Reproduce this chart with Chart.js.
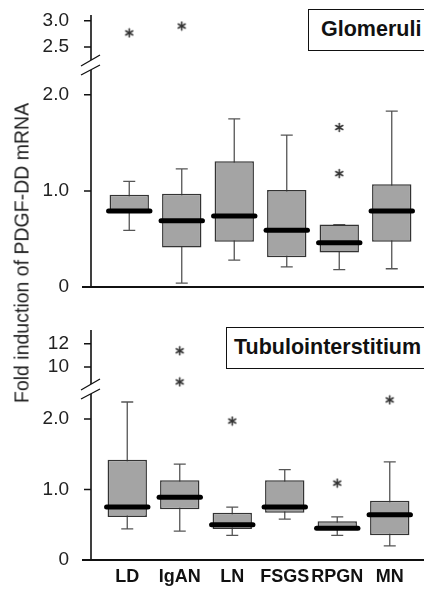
<!DOCTYPE html>
<html>
<head>
<meta charset="utf-8">
<script src="https://cdn.jsdelivr.net/npm/chart.js@4.4.1/dist/chart.umd.min.js"></script>
<style>
  html, body { margin: 0; padding: 0; background: #fff; }
  body { width: 424px; height: 589px; position: relative; overflow: hidden; font-family: "Liberation Sans", Arial, sans-serif; }
  canvas { position: absolute; left: 0; }
  #glomCanvas { top: 0; }
  #tubCanvas { top: 300px; }
  .panel-label {
    position: absolute; box-sizing: border-box; height: 42px; width: 140px;
    border: 1.5px solid #111; background: #fff; font-weight: bold; font-size: 21.5px;
    line-height: 39px; color: #111; white-space: nowrap;
  }
  #glomLabel { left: 308px; top: 9px; padding-left: 12px; }
  #tubLabel { left: 226px; top: 327px; width: 220px; padding-left: 7px; }
  #yTitle {
    position: absolute; left: 22px; top: 253px; white-space: nowrap;
    transform: translate(-50%, -50%) rotate(-90deg);
    font-size: 19.5px; color: #222;
  }
</style>
</head>
<body>
<canvas id="glomCanvas" width="424" height="300"></canvas>
<canvas id="tubCanvas" width="424" height="289"></canvas>
<div id="glomLabel" class="panel-label">Glomeruli</div>
<div id="tubLabel" class="panel-label">Tubulointerstitium</div>
<div id="yTitle">Fold induction of PDGF-DD mRNA</div>
<script>
const categories = ['LD', 'IgAN', 'LN', 'FSGS', 'RPGN', 'MN'];

// Glomeruli
const glomWhiskerLow  = [0.59, 0.04, 0.28, 0.21, 0.18, 0.19];
const glomQ1          = [0.77, 0.41, 0.47, 0.31, 0.36, 0.47];
const glomMedian      = [0.79, 0.69, 0.74, 0.59, 0.46, 0.79];
const glomQ3          = [0.96, 0.97, 1.31, 1.01, 0.65, 1.07];
const glomWhiskerHigh = [1.10, 1.23, 1.75, 1.58, 0.65, 1.83];
const glomOutlierLowCats  = ['RPGN', 'RPGN'];
const glomOutlierLowVals  = [1.66, 1.18];
const glomOutlierHighCats = ['LD', 'IgAN'];
const glomOutlierHighVals = [2.77, 2.90];
const glomLowTicks  = [0, 1, 2];
const glomLowTickLabels  = ['0', '1.0', '2.0'];
const glomHighTicks = [2.5, 3];
const glomHighTickLabels = ['2.5', '3.0'];

// Tubulointerstitium
const tubWhiskerLow  = [0.44, 0.41, 0.35, 0.58, 0.35, 0.20];
const tubQ1          = [0.61, 0.72, 0.44, 0.67, 0.44, 0.35];
const tubMedian      = [0.75, 0.89, 0.50, 0.75, 0.45, 0.64];
const tubQ3          = [1.42, 1.13, 0.67, 1.13, 0.55, 0.84];
const tubWhiskerHigh = [2.24, 1.36, 0.75, 1.28, 0.61, 1.39];
const tubOutlierLowCats  = ['LN', 'RPGN', 'MN'];
const tubOutlierLowVals  = [1.97, 1.09, 2.27];
const tubOutlierHighCats = ['IgAN', 'IgAN'];
const tubOutlierHighVals = [11.4, 8.7];
const tubLowTicks  = [0, 1, 2];
const tubLowTickLabels  = ['0', '1.0', '2.0'];
const tubHighTicks = [10, 12];
const tubHighTickLabels = ['10', '12'];

const BOX_FILL = '#a4a4a4';
const BOX_EDGE = '#333';
const INK = '#111';
const FONT = '"Liberation Sans", Arial, sans-serif';

// small six-armed asterisk used as point style
function makeAsterisk() {
  const c = document.createElement('canvas');
  c.width = 11; c.height = 11;
  const g = c.getContext('2d');
  g.strokeStyle = '#333';
  g.lineWidth = 1.6;
  g.lineCap = 'round';
  for (let k = 0; k < 3; k++) {
    const a = Math.PI / 2 + k * Math.PI / 3;
    g.beginPath();
    g.moveTo(5.5 + Math.cos(a) * 4, 5.5 - Math.sin(a) * 4);
    g.lineTo(5.5 - Math.cos(a) * 4, 5.5 + Math.sin(a) * 4);
    g.stroke();
  }
  return c;
}
const asterisk = makeAsterisk();

// whiskers, medians, broken y axis, x axis line
const boxPlotPlugin = {
  id: 'boxPlot',
  beforeDatasetsDraw(chart) {
    const p = chart.options.plugins.boxPlot;
    const ctx = chart.ctx;
    const x = chart.scales.x, y = chart.scales.y;
    ctx.save();
    ctx.strokeStyle = '#555';
    ctx.lineWidth = 1.3;
    categories.forEach((c, i) => {
      const cx = x.getPixelForValue(i);
      const lo = y.getPixelForValue(p.whiskerLow[i]);
      const hi = y.getPixelForValue(p.whiskerHigh[i]);
      ctx.beginPath();
      ctx.moveTo(cx, lo); ctx.lineTo(cx, hi);
      ctx.moveTo(cx - 6, lo); ctx.lineTo(cx + 6, lo);
      ctx.moveTo(cx - 6, hi); ctx.lineTo(cx + 6, hi);
      ctx.stroke();
    });
    ctx.restore();
  },
  afterDatasetsDraw(chart) {
    const p = chart.options.plugins.boxPlot;
    const ctx = chart.ctx;
    const y = chart.scales.y, yUp = chart.scales.yUp;
    const bars = chart.getDatasetMeta(0).data;
    ctx.save();
    ctx.strokeStyle = '#000';
    ctx.lineWidth = 5;
    ctx.lineCap = 'round';
    bars.forEach((bar, i) => {
      const my = y.getPixelForValue(p.median[i]);
      ctx.beginPath();
      ctx.moveTo(bar.x - bar.width / 2 - 1, my);
      ctx.lineTo(bar.x + bar.width / 2 + 1, my);
      ctx.stroke();
    });

    // broken y axis
    const ax = p.axisX;
    const b = y.top;
    ctx.lineCap = 'butt';
    ctx.strokeStyle = INK;
    ctx.lineWidth = 1.6;
    ctx.beginPath();
    ctx.moveTo(ax, yUp.top); ctx.lineTo(ax, b - 6);
    ctx.moveTo(ax, b + 4); ctx.lineTo(ax, y.bottom);
    ctx.stroke();
    ctx.lineWidth = 1.3;
    ctx.beginPath();
    ctx.moveTo(ax - 10, b); ctx.lineTo(ax + 9, b - 11);
    ctx.moveTo(ax - 10, b + 9); ctx.lineTo(ax + 9, b - 1);
    ctx.stroke();
    ctx.lineWidth = 1.5;
    ctx.beginPath();
    [[y, p.lowTicks], [yUp, p.highTicks]].forEach(([s, ticks]) => {
      ticks.forEach(v => {
        const ty = s.getPixelForValue(v);
        ctx.moveTo(ax - 7, ty); ctx.lineTo(ax, ty);
      });
    });
    ctx.stroke();

    // x axis line
    ctx.lineWidth = 2;
    ctx.beginPath();
    ctx.moveTo(ax - 9, y.bottom);
    ctx.lineTo(chart.width, y.bottom);
    ctx.stroke();
    ctx.restore();
  }
};

function toPoints(cats, vals) {
  return cats.map((c, i) => ({ x: c, y: vals[i] }));
}

// keep tick labels from pushing the plot area inwards
function noOverflow(s) {
  s.paddingTop = 0; s.paddingBottom = 0;
  s.paddingLeft = 0; s.paddingRight = 0;
}

function makePanel(canvasId, p) {
  const tickFont = { family: FONT, size: 19 };
  return new Chart(document.getElementById(canvasId), {
    type: 'bar',
    data: {
      labels: categories,
      datasets: [
        {
          label: 'IQR',
          data: p.q1.map((v, i) => [v, p.q3[i]]),
          yAxisID: 'y',
          backgroundColor: BOX_FILL,
          borderColor: BOX_EDGE,
          borderWidth: 1.5,
          borderSkipped: false,
          barPercentage: 0.75,
          categoryPercentage: 1,
        },
        {
          type: 'line',
          label: 'outliers',
          data: p.outLow,
          yAxisID: 'y',
          showLine: false,
          pointStyle: asterisk,
          pointRadius: 5,
        },
        {
          type: 'line',
          label: 'outliers (upper)',
          data: p.outHigh,
          yAxisID: 'yUp',
          showLine: false,
          pointStyle: asterisk,
          pointRadius: 5,
        }
      ]
    },
    options: {
      responsive: false,
      animation: false,
      layout: { padding: { top: p.top, right: p.right, left: 0, bottom: 0 } },
      plugins: {
        legend: { display: false },
        tooltip: { enabled: false },
        boxPlot: p,
      },
      scales: {
        x: {
          type: 'category',
          offset: true,
          grid: { display: false, drawTicks: false },
          border: { display: false },
          ticks: {
            display: p.showLabels,
            autoSkip: false,
            maxRotation: 0,
            minRotation: 0,
            padding: 6,
            color: INK,
            font: { family: FONT, size: 18, weight: 'bold' },
          },
          afterFit: s => { s.height = p.xHeight; noOverflow(s); },
        },
        y: {
          type: 'linear',
          position: 'left',
          stack: 'panel',
          stackWeight: p.lowWeight,
          min: 0,
          max: p.lowMax,
          bounds: 'data',
          grid: { display: false, drawTicks: false },
          border: { display: false },
          afterBuildTicks: s => { s.ticks = p.lowTicks.map(v => ({ value: v })); },
          ticks: {
            autoSkip: false,
            padding: p.left - 69,
            color: '#222',
            font: tickFont,
            callback: v => p.lowTickLabels[p.lowTicks.indexOf(v)],
          },
          afterFit: s => { s.width = p.left; noOverflow(s); },
        },
        yUp: {
          type: 'linear',
          position: 'left',
          stack: 'panel',
          stackWeight: p.highWeight,
          min: p.highMin,
          max: p.highMax,
          bounds: 'data',
          grid: { display: false, drawTicks: false },
          border: { display: false },
          afterBuildTicks: s => { s.ticks = p.highTicks.map(v => ({ value: v })); },
          ticks: {
            autoSkip: false,
            padding: p.left - 69,
            color: '#222',
            font: tickFont,
            callback: v => p.highTickLabels[p.highTicks.indexOf(v)],
          },
          afterFit: s => { s.width = p.left; noOverflow(s); },
        },
      },
    },
    plugins: [boxPlotPlugin],
  });
}

makePanel('glomCanvas', {
  whiskerLow: glomWhiskerLow, q1: glomQ1, median: glomMedian, q3: glomQ3, whiskerHigh: glomWhiskerHigh,
  outLow: toPoints(glomOutlierLowCats, glomOutlierLowVals),
  outHigh: toPoints(glomOutlierHighCats, glomOutlierHighVals),
  lowTicks: glomLowTicks, lowTickLabels: glomLowTickLabels,
  highTicks: glomHighTicks, highTickLabels: glomHighTickLabels,
  lowMax: 2.30, highMin: 2.14, highMax: 3.11,
  lowWeight: 221, highWeight: 51,
  top: 15, right: 0, left: 103, xHeight: 13, axisX: 91, showLabels: false,
});

makePanel('tubCanvas', {
  whiskerLow: tubWhiskerLow, q1: tubQ1, median: tubMedian, q3: tubQ3, whiskerHigh: tubWhiskerHigh,
  outLow: toPoints(tubOutlierLowCats, tubOutlierLowVals),
  outHigh: toPoints(tubOutlierHighCats, tubOutlierHighVals),
  lowTicks: tubLowTicks, lowTickLabels: tubLowTickLabels,
  highTicks: tubHighTicks, highTickLabels: tubHighTickLabels,
  lowMax: 2.41, highMin: 8.0, highMax: 13.2,
  lowWeight: 170, highWeight: 60,
  top: 30, right: 8, left: 101, xHeight: 29, axisX: 91, showLabels: true,
});
</script>
</body>
</html>
